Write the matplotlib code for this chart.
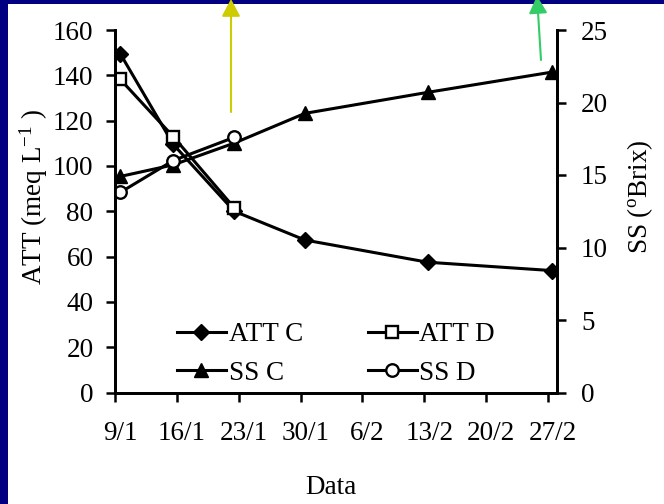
import matplotlib
matplotlib.use('Agg')
import matplotlib.pyplot as plt
import matplotlib.transforms as mtransforms
from matplotlib.patches import Rectangle

plt.rcParams['font.family'] = ['Liberation Serif', 'DejaVu Serif']
plt.rcParams['mathtext.fontset'] = 'custom'
plt.rcParams['mathtext.rm'] = 'Liberation Serif'
plt.rcParams['mathtext.it'] = 'Liberation Serif:italic'

# sampling days, counted from 9/1
days = [0.6, 6.6, 13.5, 21.5, 35.4, 49.5]
days_d = [0.6, 6.6, 13.5]

att_c = [149.5, 109.5, 80.0, 67.3, 57.5, 53.8]
att_d = [138.2, 112.9, 81.5]
ss_c = [14.9, 15.7, 17.2, 19.25, 20.7, 22.1]
ss_d = [13.8, 16.0, 17.6]

tick_days = [0, 7, 14, 21, 28, 35, 42, 49]
tick_labels = ['9/1', '16/1', '23/1', '30/1', '6/2', '13/2', '20/2', '27/2']

FS = 19.5
LW = 2.2

"""Figure with navy frame"""

fig = plt.figure(figsize=(6.64, 5.04), dpi=100, facecolor='#000080')
fig.add_artist(Rectangle((8 / 664, 0), 1, 1 - 4 / 504, transform=fig.transFigure,
                         facecolor='white', edgecolor='none', zorder=-10))

ax = fig.add_axes([115 / 664, 1 - 392.5 / 504, 441.7 / 664, 362.5 / 504])
ax2 = ax.twinx()

l1, = ax.plot(days, att_c, color='black', lw=LW, marker='D', ms=8, label='ATT C')
l2, = ax.plot(days_d, att_d, color='black', lw=LW, marker='s', ms=8.5,
              mfc='white', mec='black', mew=1.7, label='ATT D')
l3, = ax2.plot(days, ss_c, color='black', lw=LW, marker='^', ms=9.5, label='SS C')
l4, = ax2.plot(days_d, ss_d, color='black', lw=LW, marker='o', ms=9,
               mfc='white', mec='black', mew=1.7, label='SS D')

ax.set_xlim(0, 50)
ax.set_ylim(0, 160)
ax2.set_ylim(0, 25)
ax.set_yticks(range(0, 161, 20))
ax2.set_yticks(range(0, 26, 5))
ax.set_xticks(tick_days)
ax.set_xticklabels(tick_labels)

for a in (ax, ax2):
    a.spines['top'].set_visible(False)
    for s in ('left', 'right', 'bottom'):
        a.spines[s].set_linewidth(2.0)

ax.tick_params(axis='y', length=6.5, width=1.8, labelsize=FS, pad=9)
ax.tick_params(axis='x', length=6.5, width=1.8, labelsize=FS, pad=14)
ax2.tick_params(axis='y', length=6.5, width=1.8, labelsize=FS, pad=11)

shift = mtransforms.ScaledTranslation(5 / 100, 0, fig.dpi_scale_trans)
for lab in ax.get_xticklabels():
    lab.set_transform(lab.get_transform() + shift)

"""Labels"""

fig.text(34 / 664, 1 - 197 / 504, 'ATT (meq L$^{-1}$ )', rotation=90,
         ha='center', va='center', fontsize=FS)
fig.text(640 / 664, 1 - 197 / 504, r'SS ($^{\rm o}$Brix)', rotation=90,
         ha='center', va='center', fontsize=FS)
fig.text(331 / 664, 1 - 487 / 504, 'Data', ha='center', va='center', fontsize=FS)

ax2.legend([l1, l3, l2, l4], ['ATT C', 'SS C', 'ATT D', 'SS D'], ncol=2,
           loc='center', bbox_to_anchor=(336 / 664, 1 - 354 / 504),
           bbox_transform=fig.transFigure, frameon=False, fontsize=FS,
           handlelength=1.8, handletextpad=0.1, columnspacing=2.4,
           labelspacing=0.5, borderpad=0)

"""Arrows at the top"""

ax.annotate('', xy=(231, 505), xytext=(231, 504 - 112), xycoords='figure pixels',
            textcoords='figure pixels', annotation_clip=False,
            arrowprops=dict(arrowstyle='-|>,head_length=0.75,head_width=0.4',
                            color='#CCCC00', lw=1.5, mutation_scale=14,
                            shrinkA=0, shrinkB=0))
ax.annotate('', xy=(537, 508), xytext=(541, 504 - 60), xycoords='figure pixels',
            textcoords='figure pixels', annotation_clip=False,
            arrowprops=dict(arrowstyle='-|>,head_length=0.75,head_width=0.4',
                            color='#33CC66', lw=1.5, mutation_scale=14,
                            shrinkA=0, shrinkB=0))

plt.savefig('out.png', dpi=100, facecolor=fig.get_facecolor())
plt.close()
